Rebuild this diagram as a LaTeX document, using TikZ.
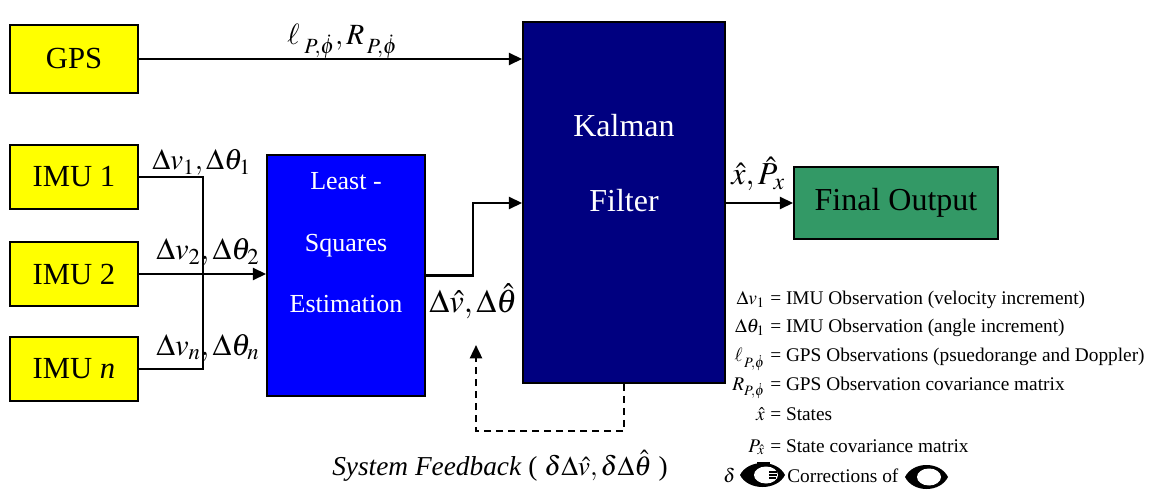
\documentclass[tikz,border=0pt]{standalone}
\usepackage{mathptmx}
\usepackage[no-math]{fontspec}
\setmainfont{Liberation Serif}
\usetikzlibrary{arrows.meta}

\definecolor{boxyellow}{HTML}{FFFF00}
\definecolor{lsblue}{HTML}{0000FF}
\definecolor{kfnavy}{HTML}{000080}
\definecolor{outgreen}{HTML}{339966}

\begin{document}
\begin{tikzpicture}[x=0.75pt,y=-0.75pt,
  blk/.style={draw=black,line width=1.3pt,inner sep=0pt},
  sensor/.style={blk,fill=boxyellow,minimum width=96pt,font=\fontsize{23}{27}\selectfont},
  wtxt/.style={inner sep=0pt,text=white},
  lbl/.style={inner sep=0pt,font=\fontsize{22}{26}\selectfont},
  leg/.style={inner sep=0pt,font=\fontsize{14.5}{17}\selectfont},
  arr/.style={line width=1.8pt,-{Triangle[length=10pt,width=9pt]}},
  wire/.style={line width=1.8pt},
  fbline/.style={arr,dash pattern=on 5pt off 4pt}]
\useasboundingbox (0,0) rectangle (1163,491);

% sources
\node[sensor,minimum height=51pt] (gps) at (74,59) {GPS};
\node[sensor,minimum height=48pt] (imu1) at (74,177) {IMU 1};
\node[sensor,minimum height=48pt] (imu2) at (74,274) {IMU 2};
\node[sensor,minimum height=48pt] (imu3) at (74,369) {IMU \textit{n}};

% processing blocks
\node[blk,fill=lsblue,minimum width=118.5pt,minimum height=180.75pt] (ls) at (346,275.5) {};
\node[blk,fill=kfnavy,minimum width=151.5pt,minimum height=270.75pt] (kf) at (624,202.5) {};
\node[blk,fill=outgreen,minimum width=153pt,minimum height=54pt,
      font=\fontsize{24}{28}\selectfont] (fo) at (896,203) {Final Output};

\node[wtxt,anchor=base,font=\fontsize{19.5}{23}\selectfont] (ls1) at (346,190) {Least -};
\node[wtxt,anchor=base,font=\fontsize{19.5}{23}\selectfont] (ls2) at (346,252) {Squares};
\node[wtxt,anchor=base,font=\fontsize{19.5}{23}\selectfont] (ls3) at (346,313) {Estimation};
\node[wtxt,anchor=base,font=\fontsize{24}{28}\selectfont] (kf1) at (624,137) {Kalman};
\node[wtxt,anchor=base,font=\fontsize{24}{28}\selectfont] (kf2) at (624,212) {Filter};

% connectors
\draw[arr] (gps.east) -- (gps.east -| kf.west);
\coordinate (jb) at (203,369);
\draw[wire] (imu1.east) -| (jb) -- (imu3.east);
\draw[arr] (imu2.east) -- (imu2.east -| ls.west);
\coordinate (lk) at (473,203);
\draw[arr] (ls.east) -| (lk) -- (lk -| kf.west);
\draw[arr] (kf.east |- fo.west) -- (fo.west);
\coordinate (fb1) at (476,431);
\coordinate (fbtip) at (476,345);
\draw[fbline] (kf.south) |- (fb1) -- (fbtip);

% signal labels
\node[lbl,anchor=base west] (lgps) at (287,45) {$\ell_{\;P,\dot{\phi}},R_{\,P,\dot{\phi}}$};
\node[lbl,anchor=base west] (limu1) at (152,170) {$\Delta v_1,\Delta\theta_1$};
\node[lbl,anchor=base west,font=\fontsize{23}{27}\selectfont] (limu2) at (156,260) {$\Delta v_2,\Delta\theta_2$};
\node[lbl,anchor=base west,font=\fontsize{23}{27}\selectfont] (limu3) at (156,355) {$\Delta v_n,\Delta\theta_n$};
\node[lbl,anchor=base west,font=\fontsize{24.5}{28}\selectfont] (lls) at (429,313) {$\Delta\hat{v},\Delta\hat{\theta}$};
\node[lbl,anchor=base west,font=\fontsize{24}{28}\selectfont] (lkf) at (731,185) {$\hat{x},\hat{P}_x$};
\node[inner sep=0pt,anchor=base west,font=\fontsize{20.5}{24}\selectfont] (lfb) at (332,475)
  {\textit{System Feedback} ( $\delta\Delta\hat{v},\delta\Delta\hat{\theta}$ )};

% legend
\node[leg,anchor=base east] (k1) at (765,305) {$\Delta v_1$};
\node[leg,anchor=base west] (d1) at (770,305) {= IMU Observation (velocity increment)};
\node[leg,anchor=base east] (k2) at (765,333) {$\Delta\theta_1$};
\node[leg,anchor=base west] (d2) at (770,333) {= IMU Observation (angle increment)};
\node[leg,anchor=base east] (k3) at (765,362) {$\ell_{\,P,\dot{\phi}}$};
\node[leg,anchor=base west] (d3) at (770,362) {= GPS Observations (psuedorange and Doppler)};
\node[leg,anchor=base east] (k4) at (765,390) {$R_{P,\dot{\phi}}$};
\node[leg,anchor=base west] (d4) at (770,390) {= GPS Observation covariance matrix};
\node[leg,anchor=base east] (k5) at (765,420) {$\hat{x}$};
\node[leg,anchor=base west] (d5) at (770,420) {= States};
\node[leg,anchor=base east] (k6) at (765,452) {$P_{\hat{x}}$};
\node[leg,anchor=base west] (d6) at (770,452) {= State covariance matrix};
\node[leg,anchor=base west] (k7) at (723,482) {$\delta$};
\node[leg,anchor=base west] (d7) at (787,482) {Corrections of};

% placeholder glyph marks in the last legend line
\fill[black] (740,475) .. controls (748,459) and (777,459) .. (785,475)
             .. controls (777,491) and (748,491) .. (740,475) -- cycle;
\fill[white] (766,475) ellipse [x radius=12, y radius=8.5];
\draw[black,line width=0.8pt] (769,472) -- (777,472) (769,475) -- (777,475) (769,478) -- (776,478);
\draw[black,line width=0.8pt] (757,463) -- (770,463);
\fill[black] (905,477) .. controls (913,461) and (940,461) .. (948,477)
             .. controls (940,493) and (913,493) .. (905,477) -- cycle;
\fill[white] (929,477) ellipse [x radius=12, y radius=8.5];
\end{tikzpicture}
\end{document}
